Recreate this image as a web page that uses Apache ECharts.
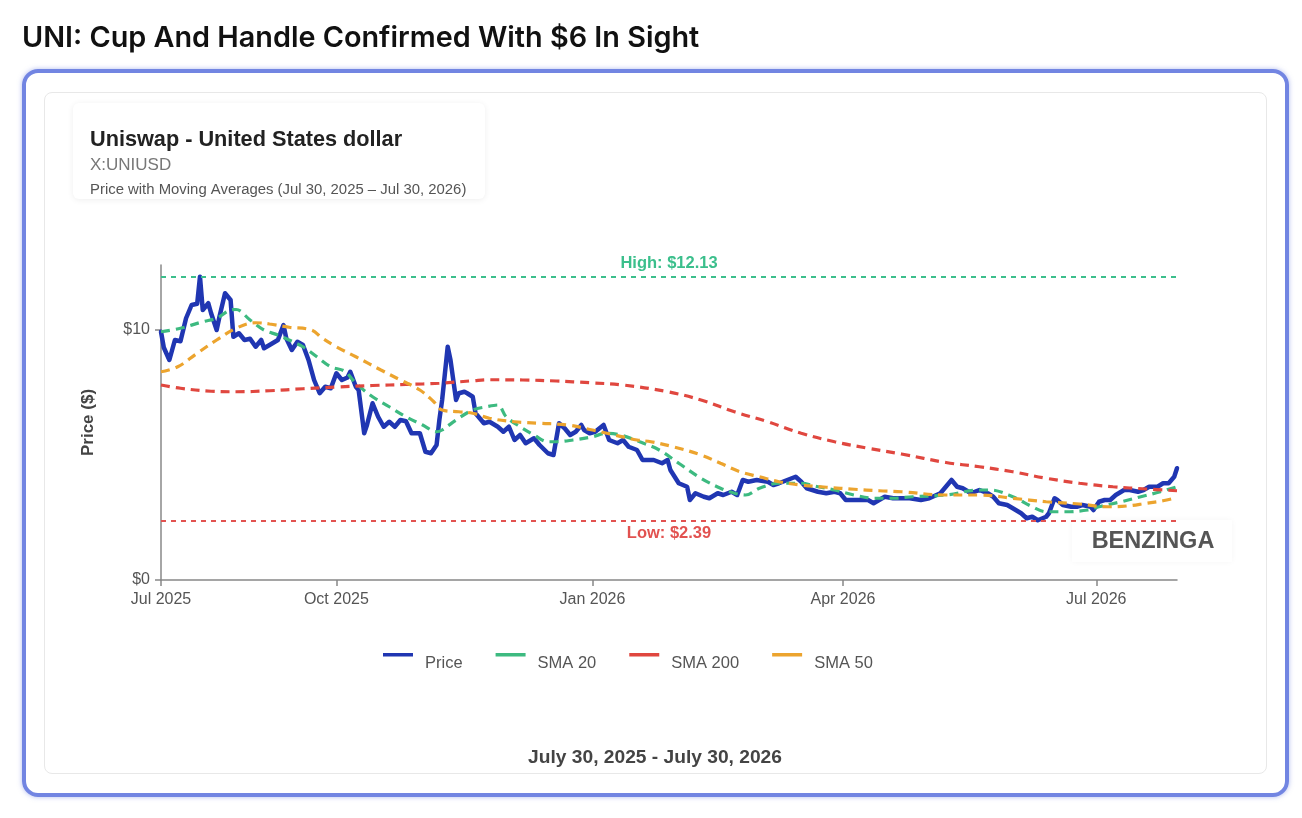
<!DOCTYPE html>
<html>
<head>
<meta charset="utf-8">
<script src="https://cdn.jsdelivr.net/npm/echarts@6/dist/echarts.min.js"></script>
<style>
html,body{margin:0;padding:0;background:#fff;width:1302px;height:818px;overflow:hidden;}
#outer{position:absolute;left:22px;top:69px;width:1259px;height:720px;border:4px solid #7285e2;border-radius:16px;box-shadow:0 0 5px rgba(114,133,226,0.55);}
#inner{position:absolute;left:44px;top:92px;width:1221px;height:680px;border:1px solid #e8e8e8;border-radius:8px;}
#hdr{position:absolute;left:73px;top:103px;width:412px;height:96px;border-radius:6px;box-shadow:0 1px 6px rgba(0,0,0,0.07);background:#fff;}
#wm{position:absolute;left:1072px;top:520px;width:160px;height:42px;background:rgba(255,255,255,0.85);box-shadow:0 0 6px rgba(0,0,0,0.04);}
#chart{position:absolute;left:0;top:0;width:1302px;height:818px;}
</style>
</head>
<body>
<div id="outer"></div>
<div id="inner"></div>
<div id="hdr"></div>
<div id="wm"></div>
<div id="chart"></div>
<script>
// ---------- DATA ----------
const priceDates = [
'2025-07-30','2025-07-31','2025-08-02','2025-08-04','2025-08-06','2025-08-08','2025-08-10','2025-08-12','2025-08-13','2025-08-14','2025-08-16','2025-08-17','2025-08-19','2025-08-20','2025-08-22','2025-08-24','2025-08-25','2025-08-27','2025-08-29','2025-08-31',
'2025-09-02','2025-09-04','2025-09-05','2025-09-07','2025-09-10','2025-09-12','2025-09-13','2025-09-15','2025-09-17','2025-09-19','2025-09-21','2025-09-23','2025-09-25','2025-09-27','2025-09-29',
'2025-10-01','2025-10-03','2025-10-05','2025-10-06','2025-10-08','2025-10-09','2025-10-11','2025-10-12','2025-10-14','2025-10-16','2025-10-18','2025-10-20','2025-10-22','2025-10-24','2025-10-26','2025-10-28','2025-10-31',
'2025-11-02','2025-11-04','2025-11-06','2025-11-07','2025-11-08','2025-11-10','2025-11-11','2025-11-13','2025-11-14','2025-11-16','2025-11-17','2025-11-19','2025-11-20','2025-11-23','2025-11-25','2025-11-28','2025-11-30',
'2025-12-02','2025-12-04','2025-12-06','2025-12-08','2025-12-11','2025-12-13','2025-12-16','2025-12-18','2025-12-20','2025-12-22','2025-12-24','2025-12-26','2025-12-28','2025-12-29','2025-12-31',
'2026-01-02','2026-01-05','2026-01-07','2026-01-10','2026-01-12','2026-01-14','2026-01-17','2026-01-19','2026-01-23','2026-01-26','2026-01-28','2026-01-29',
'2026-02-01','2026-02-04','2026-02-05','2026-02-07','2026-02-10','2026-02-12','2026-02-15','2026-02-17','2026-02-20','2026-02-22','2026-02-24','2026-02-26',
'2026-03-01','2026-03-05','2026-03-07','2026-03-09','2026-03-12','2026-03-15','2026-03-17','2026-03-19','2026-03-23','2026-03-26','2026-03-29','2026-03-31',
'2026-04-02','2026-04-06','2026-04-10','2026-04-12','2026-04-16','2026-04-19','2026-04-25','2026-04-29',
'2026-05-02','2026-05-06','2026-05-10','2026-05-12','2026-05-14','2026-05-17','2026-05-20','2026-05-23','2026-05-25','2026-05-27','2026-05-30',
'2026-06-01','2026-06-04','2026-06-06','2026-06-08','2026-06-10','2026-06-13','2026-06-14','2026-06-16','2026-06-17','2026-06-19','2026-06-22','2026-06-24','2026-06-26','2026-06-29','2026-06-30',
'2026-07-02','2026-07-04','2026-07-06','2026-07-08','2026-07-11','2026-07-13','2026-07-16','2026-07-18','2026-07-20','2026-07-23','2026-07-25','2026-07-27','2026-07-29','2026-07-30'
];
const priceValues = [
9.93, 9.3, 8.8, 9.6, 9.55, 10.47, 11.0, 11.05, 12.13, 10.8, 11.07, 10.67, 10.0, 10.53, 11.47, 11.2, 9.73, 9.87, 9.6, 9.65,
9.33, 9.6, 9.27, 9.4, 9.6, 10.2, 9.67, 9.2, 9.53, 9.4, 8.8, 8.0, 7.47, 7.73, 7.67,
8.27, 8.0, 8.1, 8.33, 7.73, 7.6, 5.87, 6.2, 7.07, 6.53, 6.13, 6.33, 6.13, 6.4, 6.35, 5.87, 5.87,
5.13, 5.07, 5.4, 6.4, 7.2, 9.33, 8.8, 7.2, 7.47, 7.53, 7.47, 7.33, 6.67, 6.27, 6.33, 6.13, 5.93,
6.13, 5.6, 5.8, 5.47, 5.67, 5.4, 5.07, 5.0, 6.27, 6.07, 5.8, 5.93, 6.2, 6.0, 5.87,
5.93, 6.2, 5.6, 5.47, 5.6, 5.33, 5.2, 4.8, 4.8, 4.67, 4.8, 4.4,
3.87, 3.73, 3.2, 3.47, 3.33, 3.27, 3.47, 3.4, 3.53, 3.4, 4.0, 3.93,
4.0, 3.93, 3.8, 3.87, 4.0, 4.13, 3.93, 3.67, 3.53, 3.47, 3.53, 3.47,
3.2, 3.2, 3.2, 3.07, 3.33, 3.27, 3.27, 3.2,
3.27, 3.47, 4.0, 3.73, 3.67, 3.47, 3.6, 3.47, 3.33, 3.07, 3.0,
2.87, 2.67, 2.47, 2.53, 2.39, 2.53, 2.67, 3.27, 3.2, 3.0, 2.93, 2.93, 3.0, 2.93, 2.8,
3.13, 3.2, 3.2, 3.4, 3.6, 3.6, 3.53, 3.6, 3.73, 3.73, 3.87, 3.87, 4.13, 4.47
];

const sma20Dates = ['2025-07-30','2025-08-06','2025-08-14','2025-08-19','2025-08-24','2025-08-26','2025-08-31','2025-09-05','2025-09-10','2025-09-14','2025-09-19','2025-09-24','2025-09-29','2025-10-04','2025-10-08','2025-10-14','2025-10-20','2025-10-26','2025-11-01','2025-11-06','2025-11-08','2025-11-13','2025-11-19','2025-11-24','2025-11-28','2025-12-01','2025-12-06','2025-12-11','2025-12-16','2025-12-19','2025-12-25','2026-01-01','2026-01-06','2026-01-11','2026-01-18','2026-01-25','2026-02-01','2026-02-09','2026-02-16','2026-02-21','2026-02-25','2026-03-02','2026-03-09','2026-03-17','2026-03-23','2026-03-29','2026-04-05','2026-04-12','2026-04-19','2026-04-26','2026-05-08','2026-05-20','2026-05-24','2026-06-01','2026-06-08','2026-06-13','2026-06-20','2026-06-28','2026-07-02','2026-07-10','2026-07-17','2026-07-24','2026-07-30'];
const sma20Values = [9.93,10.07,10.33,10.47,10.8,10.82,10.4,10.0,9.8,9.6,9.33,8.93,8.53,8.35,7.87,7.33,6.93,6.53,6.2,5.93,6.0,6.4,6.8,6.93,7.0,6.53,6.13,5.8,5.53,5.53,5.6,5.73,5.87,5.8,5.53,5.2,4.67,4.07,3.67,3.47,3.4,3.67,3.87,3.87,3.73,3.6,3.4,3.27,3.27,3.33,3.4,3.6,3.6,3.33,2.93,2.73,2.73,2.8,2.93,3.13,3.33,3.53,3.73];

const sma200Dates = ['2025-07-30','2025-08-06','2025-08-17','2025-08-26','2025-09-07','2025-09-19','2025-10-01','2025-10-14','2025-10-26','2025-11-07','2025-11-19','2025-11-25','2025-12-07','2025-12-19','2025-12-31','2026-01-12','2026-01-28','2026-02-09','2026-02-21','2026-03-05','2026-03-17','2026-03-29','2026-04-10','2026-04-22','2026-05-08','2026-05-20','2026-06-01','2026-06-13','2026-06-25','2026-07-07','2026-07-19','2026-07-30'];
const sma200Values = [7.8,7.67,7.55,7.53,7.57,7.65,7.72,7.78,7.82,7.87,7.97,8.01,8.0,7.96,7.89,7.8,7.53,7.2,6.73,6.33,5.87,5.53,5.27,5.04,4.7,4.53,4.33,4.07,3.87,3.73,3.64,3.57];

const sma50Dates = ['2025-07-30','2025-08-05','2025-08-12','2025-08-19','2025-08-26','2025-09-02','2025-09-07','2025-09-14','2025-09-22','2025-09-26','2025-10-01','2025-10-08','2025-10-17','2025-10-24','2025-10-31','2025-11-05','2025-11-08','2025-11-14','2025-11-19','2025-11-25','2025-12-04','2025-12-13','2025-12-23','2026-01-01','2026-01-09','2026-01-17','2026-01-22','2026-01-30','2026-02-09','2026-02-16','2026-02-23','2026-03-02','2026-03-09','2026-03-17','2026-03-26','2026-04-05','2026-04-14','2026-04-22','2026-05-08','2026-05-20','2026-06-01','2026-06-13','2026-06-25','2026-07-05','2026-07-12','2026-07-19','2026-07-25','2026-07-30'];
const sma50Values = [8.33,8.53,9.07,9.6,10.07,10.29,10.24,10.11,10.0,9.67,9.33,8.93,8.4,8.0,7.6,7.13,6.8,6.73,6.67,6.47,6.33,6.27,6.2,6.0,5.8,5.6,5.53,5.33,5.0,4.67,4.33,4.13,3.93,3.8,3.71,3.63,3.57,3.53,3.4,3.4,3.27,3.13,3.04,2.93,2.96,3.07,3.17,3.3];

const highValue = 12.13;
const lowValue = 2.39;
const xRange = ['2025-07-30','2026-07-30'];
const xTickDates = ['2025-07-30','2025-10-01','2026-01-01','2026-04-01','2026-07-01'];
const xTickLabels = ['Jul 2025','Oct 2025','Jan 2026','Apr 2026','Jul 2026'];
const yTickValues = [0, 10];
const yTickLabels = ['$0', '$10'];
const seriesNames = ['Price','SMA 20','SMA 200','SMA 50'];

// ---------- BUILD ----------
const ts = s => Date.UTC(+s.slice(0,4), +s.slice(5,7) - 1, +s.slice(8,10));
const zip = (d, v) => d.map((s, i) => [ts(s), v[i]]);
const xTickTs = xTickDates.map(ts);
const FONT = '"Liberation Sans", Arial, Helvetica, sans-serif';
const C = {price:'#2036b2', s20:'#3dba80', s200:'#e0473f', s50:'#eca42e', high:'#3bbf8c', low:'#e25250'};

const chart = echarts.init(document.getElementById('chart'), null, {renderer:'canvas'});
chart.setOption({
  animation: false,
  textStyle: {fontFamily: FONT},
  grid: {left: 161, right: 125, top: 265, bottom: 238},
  graphic: [
    {type:'text', x:22, y:38, style:{text:'UNI: Cup And Handle Confirmed With $6 In Sight', fill:'#111', fontFamily:'Inter', fontWeight:600, fontSize:28.8, align:'left', verticalAlign:'middle'}},
    {type:'text', x:90, y:140, style:{text:'Uniswap - United States dollar', fill:'#222', fontFamily:FONT, fontWeight:'bold', fontSize:21.7, align:'left', verticalAlign:'middle'}},
    {type:'text', x:90, y:165, style:{text:'X:UNIUSD', fill:'#777', fontFamily:FONT, fontSize:17, align:'left', verticalAlign:'middle'}},
    {type:'text', x:90, y:190, style:{text:'Price with Moving Averages (Jul 30, 2025 \u2013 Jul 30, 2026)', fill:'#555', fontFamily:FONT, fontSize:14.9, align:'left', verticalAlign:'middle'}},
    {type:'text', x:1153, y:542, style:{text:'BENZINGA', fill:'#555', fontFamily:FONT, fontWeight:'bold', fontSize:23.5, align:'center', verticalAlign:'middle'}},
    {type:'text', x:655, y:758, style:{text:'July 30, 2025 - July 30, 2026', fill:'#444', fontFamily:FONT, fontWeight:'bold', fontSize:19.2, align:'center', verticalAlign:'middle'}}
  ],
  legend: {
    data: seriesNames,
    left: 383, top: 653, padding: 0,
    itemGap: 33, itemWidth: 37, itemHeight: 20,
    icon: 'path://M0,0H30V3.5H0Z M37,20H37.01V20.01H37Z',
    itemStyle: {borderWidth: 0},
    textStyle: {fontSize: 16.5, color: '#555', fontFamily: FONT}
  },
  xAxis: {
    type: 'value',
    min: ts(xRange[0]), max: ts(xRange[1]),
    axisLine: {show: true, lineStyle: {color: '#888', width: 1.5}},
    axisTick: {show: true, length: 6, customValues: xTickTs, lineStyle: {color: '#888', width: 1.5}},
    axisLabel: {
      customValues: xTickTs, margin: 12, fontSize: 16, color: '#555', fontFamily: FONT,
      formatter: v => { const i = xTickTs.indexOf(+v); return i >= 0 ? xTickLabels[i] : ''; }
    },
    splitLine: {show: false}
  },
  yAxis: {
    type: 'value', min: 0, max: 12.6,
    name: 'Price ($)', nameLocation: 'middle', nameGap: 64,
    nameTextStyle: {fontSize: 17, fontWeight: 'bold', color: '#444', fontFamily: FONT},
    axisLine: {show: true, lineStyle: {color: '#888', width: 1.5}},
    axisTick: {show: true, length: 6, customValues: yTickValues, lineStyle: {color: '#888', width: 1.5}},
    axisLabel: {
      customValues: yTickValues, margin: 11, fontSize: 16, color: '#555', fontFamily: FONT,
      formatter: v => { const i = yTickValues.indexOf(+v); return i >= 0 ? yTickLabels[i] : ''; }
    },
    splitLine: {show: false}
  },
  series: [
    {
      name: seriesNames[0], type: 'line', data: zip(priceDates, priceValues),
      showSymbol: false, symbol: 'none', color: C.price,
      lineStyle: {color: C.price, width: 4.5, cap: 'round', join: 'round'},
      z: 2,
      markLine: {
        silent: true, symbol: ['none','none'],
        data: [
          {yAxis: highValue, lineStyle: {color: C.high, type: [5,5], width: 2},
           label: {formatter: 'High: $' + highValue.toFixed(2), position: 'insideMiddleTop', distance: 5, color: C.high, fontWeight: 'bold', fontSize: 16.5, fontFamily: FONT}},
          {yAxis: lowValue, lineStyle: {color: C.low, type: [5,5], width: 2},
           label: {formatter: 'Low: $' + lowValue.toFixed(2), position: 'insideMiddleBottom', distance: 5, color: C.low, fontWeight: 'bold', fontSize: 16.5, fontFamily: FONT}}
        ]
      }
    },
    {name: seriesNames[1], type: 'line', data: zip(sma20Dates, sma20Values), smooth: 0.35, showSymbol: false, symbol: 'none', color: C.s20,
     lineStyle: {color: C.s20, width: 3.2, type: [9,6]}, z: 3},
    {name: seriesNames[2], type: 'line', data: zip(sma200Dates, sma200Values), smooth: 0.4, showSymbol: false, symbol: 'none', color: C.s200,
     lineStyle: {color: C.s200, width: 3.2, type: [9,6]}, z: 3},
    {name: seriesNames[3], type: 'line', data: zip(sma50Dates, sma50Values), smooth: 0.4, showSymbol: false, symbol: 'none', color: C.s50,
     lineStyle: {color: C.s50, width: 3.2, type: [9,6]}, z: 3}
  ]
});
</script>
</body>
</html>
